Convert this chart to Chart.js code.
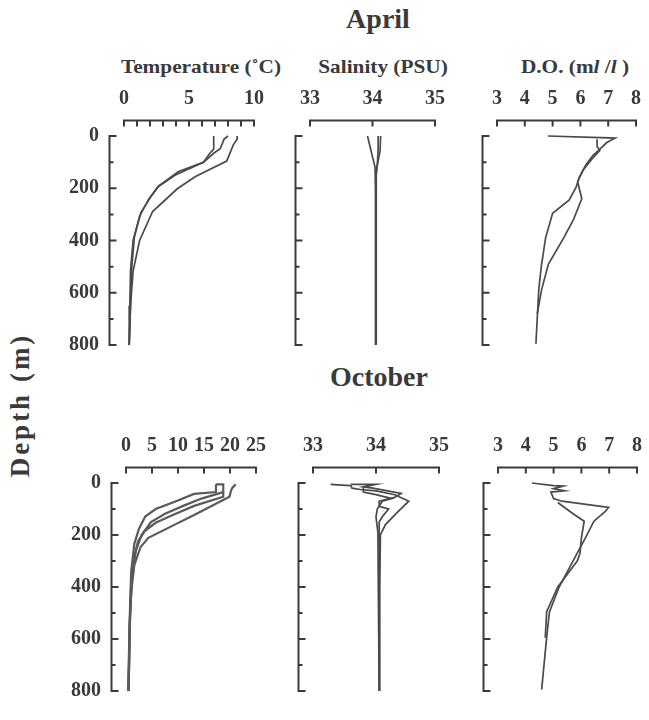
<!DOCTYPE html>
<html>
<head>
<meta charset="utf-8">
<script src="https://cdn.jsdelivr.net/npm/chart.js@4.4.0/dist/chart.umd.min.js"></script>
<style>
  body { margin: 0; background: #fff; width: 649px; height: 720px; position: relative; overflow: hidden;
         font-family: "Liberation Serif", "DejaVu Serif", serif; font-weight: bold; color: #3a3a3a; }
  .t { position: absolute; white-space: nowrap; transform: translate(-50%, -50%); }
  canvas { position: absolute; }
</style>
</head>
<body>
<div class="t" style="left:378px;top:19px;font-size:28px">April</div>
<div class="t" style="left:201px;top:67px;font-size:19px;transform:translate(-50%,-50%) scaleX(1.12)">Temperature (˚C)</div>
<div class="t" style="left:383px;top:67px;font-size:19px;transform:translate(-50%,-50%) scaleX(1.12)">Salinity (PSU)</div>
<div class="t" style="left:575px;top:67px;font-size:19px;transform:translate(-50%,-50%) scaleX(1.12)">D.O. (m<i>l</i> /<i>l</i> )</div>
<div class="t" style="left:379px;top:377px;font-size:28px">October</div>
<div class="t" style="left:20px;top:405px;font-size:27px;letter-spacing:3px;transform:translate(-50%,-50%) rotate(-90deg)">Depth (m)</div>

<canvas id="aprTemp"></canvas>
<canvas id="aprSal"></canvas>
<canvas id="aprDO"></canvas>
<canvas id="octTemp"></canvas>
<canvas id="octSal"></canvas>
<canvas id="octDO"></canvas>

<script>
// depth (m) and value pairs for each CTD profile

// April - temperature
const aprT1Depth = [0, 50, 66, 101, 148, 195, 242, 307, 400, 517, 650, 800];
const aprT1 = [6.9, 6.9, 6.6, 6.1, 4.0, 2.6, 1.9, 1.2, 0.7, 0.5, 0.45, 0.4];
const aprT2Depth = [0, 12, 49, 66, 101, 136, 190, 230, 293, 386, 500, 650, 800];
const aprT2 = [8.0, 7.7, 7.4, 6.9, 6.1, 4.2, 2.7, 2.1, 1.3, 0.8, 0.6, 0.5, 0.4];
const aprT3Depth = [0, 12, 35, 60, 96, 155, 202, 289, 400, 517, 650, 800];
const aprT3 = [8.7, 8.7, 8.4, 8.2, 7.9, 5.5, 4.1, 2.2, 1.2, 0.7, 0.5, 0.4];

// April - salinity
const aprS1Depth = [0, 40, 80, 118, 200, 400, 600, 800];
const aprS1 = [33.92, 33.96, 34.0, 34.04, 34.05, 34.05, 34.05, 34.05];
const aprS2Depth = [0, 60, 118, 160, 800];
const aprS2 = [34.13, 34.12, 34.07, 34.05, 34.05];
const aprS3Depth = [0, 50, 100, 150, 800];
const aprS3 = [34.09, 34.09, 34.08, 34.06, 34.06];

// April - dissolved oxygen
const aprD1Depth = [0, 8, 25, 50, 75, 110, 160, 195, 245, 296, 389, 494, 590, 795];
const aprD1 = [4.83, 7.25, 6.95, 6.7, 6.45, 6.2, 5.95, 5.85, 5.6, 5.0, 4.75, 4.6, 4.5, 4.4];
const aprD2Depth = [12, 40, 55, 90, 130, 175, 240, 320, 390, 490, 590, 680];
const aprD2 = [6.6, 6.6, 6.7, 6.4, 6.1, 5.9, 6.05, 5.75, 5.4, 4.85, 4.6, 4.45];

// October - temperature
const octT1Depth = [5, 35, 42, 71, 100, 129, 176, 234, 339, 455, 800];
const octT1 = [17.3, 17.3, 13.1, 9.5, 5.7, 3.7, 2.5, 1.6, 1.0, 0.8, 0.4];
const octT2Depth = [5, 5, 35, 60, 88, 118, 150, 200, 260, 360, 500, 800];
const octT2 = [17.3, 18.7, 18.7, 14.5, 11.0, 7.5, 4.8, 3.0, 1.9, 1.2, 0.8, 0.5];
const octT3Depth = [35, 53, 88, 123, 153, 185, 225, 290, 400, 540, 800];
const octT3 = [18.7, 18.7, 13.1, 9.0, 5.7, 3.6, 2.3, 1.5, 1.0, 0.7, 0.5];
const octT4Depth = [5, 20, 30, 53, 123, 164, 211, 246, 316, 420, 560, 800];
const octT4 = [21.1, 20.4, 20.2, 19.9, 13.1, 9.0, 4.3, 2.8, 1.6, 1.0, 0.7, 0.5];

// October - salinity
const octS1Depth = [5, 8, 10, 20, 25, 30, 45, 70, 110, 160, 200, 400, 800];
const octS1 = [33.28, 33.45, 33.6, 33.62, 33.75, 34.0, 34.3, 34.52, 34.35, 34.15, 34.07, 34.06, 34.06];
const octS2Depth = [5, 5, 5, 15, 20, 40, 55, 70, 90, 100, 130, 150, 200, 800];
const octS2 = [33.6, 33.8, 34.0, 33.8, 33.95, 34.4, 34.3, 34.05, 34.05, 34.2, 34.1, 34.05, 34.05, 34.05];
const octS3Depth = [12, 35, 45, 60, 70, 100, 130, 190, 800];
const octS3 = [33.8, 33.8, 34.0, 34.25, 34.1, 34.02, 34.0, 34.03, 34.05];

// October - dissolved oxygen
const octD1Depth = [0, 10, 12, 22, 30, 35, 60, 70, 94, 110, 147, 210, 270, 340, 400, 496, 595, 795];
const octD1 = [4.22, 5.0, 5.35, 5.0, 5.4, 4.9, 5.0, 5.3, 6.98, 6.85, 6.45, 6.15, 5.85, 5.5, 5.2, 4.85, 4.75, 4.57];
const octD2Depth = [75, 118, 147, 211, 270, 300, 350, 400, 495, 595];
const octD2 = [5.15, 5.7, 6.1, 6.0, 5.95, 5.85, 5.5, 5.15, 4.75, 4.7];

const depthTicks = [0, 200, 400, 600, 800];

const profile = (vals, depths) => vals.map((v, i) => ({ x: v, y: depths[i] }));

const bracketAxes = {
  id: 'bracketAxes',
  afterDraw(chart) {
    const { ctx, chartArea: a, scales: { x, y } } = chart;
    ctx.save();
    ctx.strokeStyle = '#3a3a3a';
    ctx.lineWidth = 2;
    ctx.lineCap = 'butt';
    const ay = a.top - 15.5;
    const ax = a.left - 14.5;
    ctx.beginPath();
    ctx.moveTo(x.getPixelForValue(x.min) - 1, ay);
    ctx.lineTo(x.getPixelForValue(x.max) + 1, ay);
    x.ticks.forEach(t => {
      const px = x.getPixelForValue(t.value);
      ctx.moveTo(px, ay);
      ctx.lineTo(px, ay + 6);
    });
    ctx.moveTo(ax, y.getPixelForValue(0) - 1);
    ctx.lineTo(ax, y.getPixelForValue(800) + 1);
    y.ticks.forEach(t => {
      const py = y.getPixelForValue(t.value);
      const len = depthTicks.includes(t.value) ? 7 : 4;
      ctx.moveTo(ax, py);
      ctx.lineTo(ax + len, py);
    });
    ctx.stroke();
    ctx.restore();
  }
};

function panel(id, box, xMin, xMax, xStep, xLabel, showDepth, series, lineColor, lineWidth) {
  const padL = showDepth ? 66 : 30, padT = 50, padR = 24, padB = 16;
  const cv = document.getElementById(id);
  const w = box.right - box.left, h = box.bottom - box.top;
  cv.width = w + padL + padR;
  cv.height = h + padT + padB;
  cv.style.left = (box.left - padL) + 'px';
  cv.style.top = (box.top - padT) + 'px';
  const font = { family: '"Liberation Serif", serif', size: 20, weight: 'bold' };
  new Chart(cv, {
    type: 'scatter',
    data: {
      datasets: series.map(s => ({
        data: s,
        showLine: true,
        borderColor: lineColor,
        borderWidth: lineWidth,
        pointRadius: 0,
        clip: false
      }))
    },
    options: {
      responsive: false,
      animation: false,
      events: [],
      layout: { padding: { left: 0, top: 0, right: padR, bottom: padB } },
      plugins: { legend: { display: false }, tooltip: { enabled: false } },
      scales: {
        x: {
          type: 'linear', position: 'top', min: xMin, max: xMax,
          afterFit: s => { s.height = padT; },
          grid: { display: false, drawTicks: false },
          border: { display: false },
          ticks: { stepSize: xStep, autoSkip: false, maxRotation: 0, padding: 25, color: '#3a3a3a', font,
                   callback: v => xLabel(v) }
        },
        y: {
          type: 'linear', reverse: true, min: 0, max: 800,
          afterFit: s => { s.width = padL; },
          grid: { display: false, drawTicks: false },
          border: { display: false },
          ticks: { stepSize: 100, autoSkip: false, padding: 25, color: '#3a3a3a', font,
                   callback: v => (showDepth && depthTicks.includes(v)) ? v : '' }
        }
      }
    },
    plugins: [bracketAxes]
  });
}

const every = n => v => (Math.abs(v % n) < 1e-9 ? v : '');
const lineCol = '#4a4a4a';

panel('aprTemp', { left: 124, right: 265, top: 135.5, bottom: 365.5 }, 0, 10, 1, every(5), true,
  [profile(aprT1, aprT1Depth), profile(aprT2, aprT2Depth), profile(aprT3, aprT3Depth)], lineCol, 1.7);
panel('aprSal', { left: 305, right: 446, top: 135.5, bottom: 365.5 }, 33, 35, 1, every(1), false,
  [profile(aprS1, aprS1Depth), profile(aprS2, aprS2Depth), profile(aprS3, aprS3Depth)], lineCol, 1.7);
panel('aprDO', { left: 497, right: 642, top: 135.5, bottom: 365.5 }, 3, 8, 1, every(1), false,
  [profile(aprD1, aprD1Depth), profile(aprD2, aprD2Depth)], lineCol, 1.7);

panel('octTemp', { left: 126, right: 267, top: 483, bottom: 712 }, 0, 25, 5, every(5), true,
  [profile(octT1, octT1Depth), profile(octT2, octT2Depth), profile(octT3, octT3Depth), profile(octT4, octT4Depth)], '#5a5a5a', 2.2);
panel('octSal', { left: 308, right: 450, top: 483, bottom: 712 }, 33, 35, 1, every(1), false,
  [profile(octS1, octS1Depth), profile(octS2, octS2Depth), profile(octS3, octS3Depth)], lineCol, 1.7);
panel('octDO', { left: 498, right: 643, top: 483, bottom: 712 }, 3, 8, 1, every(1), false,
  [profile(octD1, octD1Depth), profile(octD2, octD2Depth)], lineCol, 1.7);
</script>
</body>
</html>
